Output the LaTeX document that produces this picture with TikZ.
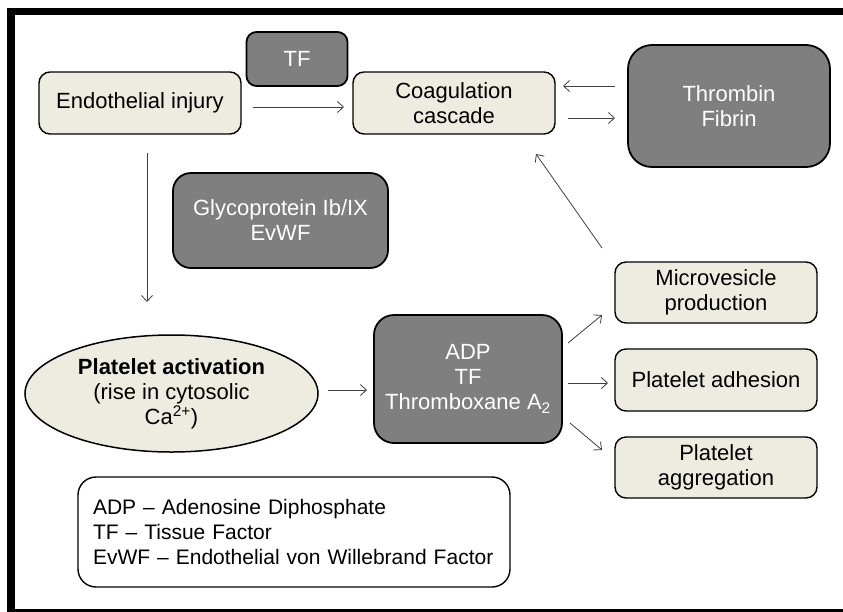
\documentclass[tikz,border=0pt]{standalone}
\usepackage{fontspec}
\setmainfont{Liberation Sans}
\usetikzlibrary{shapes.geometric,arrows.meta}
\definecolor{lightc}{HTML}{EEECE1}
\definecolor{darkc}{HTML}{7F7F7F}
\definecolor{arrowc}{HTML}{404040}
\begin{document}
\begin{tikzpicture}[x=1pt,y=-1pt,
  every node/.style={font=\fontsize{22}{25}\selectfont, align=center, inner sep=0pt},
  lbox/.style={draw=black, line width=1.4pt, fill=lightc, rounded corners=11pt},
  dbox/.style={draw=black, line width=1.8pt, fill=darkc, text=white, rounded corners=14pt},
  arr/.style={draw=arrowc, line width=0.8pt, -{Straight Barb[length=6pt,width=11pt]}}
]
\useasboundingbox (0,0) rectangle (843,611);
\fill[white] (0,0) rectangle (843,611);
\draw[line width=7.5pt] (11,11.5) rectangle (849,613);

% nodes
\node[dbox, minimum width=101pt, minimum height=54pt, rounded corners=10pt] (tf) at (297,59) {TF};
\node[lbox, minimum width=202pt, minimum height=62pt] (endo) at (140,103) {Endothelial injury};
\node[lbox, minimum width=202pt, minimum height=62pt] (coag) at (454,103) {Coagulation\\cascade};
\node[dbox, minimum width=202pt, minimum height=122pt, rounded corners=24pt] (thr) at (729,106) {Thrombin\\Fibrin};
\node[dbox, minimum width=215pt, minimum height=95pt, rounded corners=18pt] (gly) at (280.5,220.5) {Glycoprotein Ib/IX\\EvWF};
\node[ellipse, draw=black, line width=1.5pt, fill=lightc, minimum width=293pt, minimum height=117pt] (pa) at (171.5,393.5) {\textbf{Platelet activation}\\(rise in cytosolic\\Ca\textsuperscript{2+})};
\node[dbox, minimum width=188pt, minimum height=128pt, rounded corners=20pt] (adp) at (468,379) {ADP\\TF\\Thromboxane A\textsubscript{2}};
\node[lbox, minimum width=202pt, minimum height=61pt] (micro) at (716,292.5) {Microvesicle\\production};
\node[lbox, minimum width=202pt, minimum height=62pt] (adh) at (716,380) {Platelet adhesion};
\node[lbox, minimum width=202pt, minimum height=61pt] (agg) at (716,467.5) {Platelet\\aggregation};
\node[draw=black, line width=1.4pt, fill=white, rounded corners=18pt, align=left, text width=402pt, inner xsep=15pt, minimum height=110pt, font=\fontsize{21}{25}\selectfont] (leg) at (294,532) {ADP -- Adenosine Diphosphate\\TF -- Tissue Factor\\EvWF -- Endothelial von Willebrand Factor};

% arrow end points
\coordinate (e1) at (253,107);  \coordinate (e2) at (344,107);
\coordinate (t1) at (615,86);   \coordinate (t2) at (563,86);
\coordinate (c1) at (568,118);  \coordinate (c2) at (615,118);
\coordinate (m1) at (602,248);  \coordinate (m2) at (536,154);
\coordinate (v1) at (147,153);  \coordinate (v2) at (147,302);
\coordinate (p1) at (328,390);  \coordinate (p2) at (367,390);
\coordinate (a1) at (568,343);  \coordinate (a2) at (602,315);
\coordinate (b1) at (568,383);  \coordinate (b2) at (608,383);
\coordinate (g1) at (570,423);  \coordinate (g2) at (602,450);

\draw[arr] (e1) -- (e2);
\draw[arr] (t1) -- (t2);
\draw[arr] (c1) -- (c2);
\draw[arr] (m1) -- (m2);
\draw[arr] (v1) -- (v2);
\draw[arr] (p1) -- (p2);
\draw[arr] (a1) -- (a2);
\draw[arr] (b1) -- (b2);
\draw[arr] (g1) -- (g2);
\end{tikzpicture}
\end{document}
